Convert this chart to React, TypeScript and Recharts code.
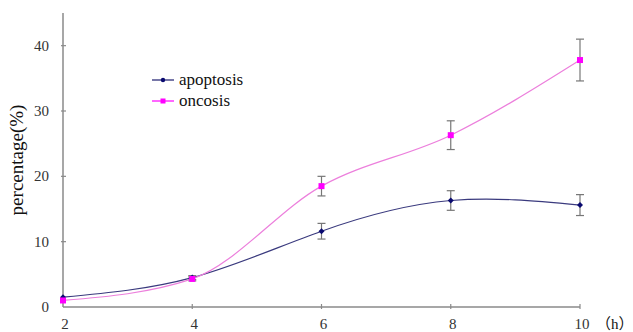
import { LineChart, Line, XAxis, YAxis, ErrorBar } from 'recharts';

const hours = [2, 4, 6, 8, 10];
const apoptosis = [1.5, 4.5, 11.6, 16.3, 15.6];
const apoptosisErr = [null, 0.3, 1.2, 1.5, 1.6];
const oncosis = [1.0, 4.3, 18.5, 26.3, 37.8];
const oncosisErr = [null, 0.3, 1.5, 2.2, 3.2];
const yTicks = [0, 10, 20, 30, 40];

const data = hours.map((h, i) => ({
  h,
  apoptosis: apoptosis[i],
  apoptosisErr: apoptosisErr[i],
  oncosis: oncosis[i],
  oncosisErr: oncosisErr[i],
}));

const FONT = 'Liberation Serif, DejaVu Serif, serif';
const AXIS = '#8a8a8a';

const XTick = (props: any) => {
  const { x, y, payload } = props;
  return (
    <g>
      {payload.value !== 2 ? (
        <line x1={x} y1={y} x2={x} y2={y - 5} stroke={AXIS} strokeWidth={1.2} />
      ) : null}
      <text x={x + 2} y={y + 20} textAnchor="middle" fontFamily={FONT} fontSize={15} fill="#333">
        {payload.value}
      </text>
    </g>
  );
};

const YTick = (props: any) => {
  const { x, y, payload } = props;
  return (
    <g>
      {payload.value !== 0 ? (
        <line x1={x} y1={y} x2={x + 5} y2={y} stroke={AXIS} strokeWidth={1.2} />
      ) : null}
      <text x={x - 12} y={y + 5} textAnchor="end" fontFamily={FONT} fontSize={15} fill="#333">
        {payload.value}
      </text>
    </g>
  );
};

const LegendBox = () => (
  <div
    style={{
      position: 'absolute',
      left: 150,
      top: 69,
      fontFamily: FONT,
      fontSize: 17,
      color: '#111',
      lineHeight: '21px',
    }}
  >
    <div style={{ display: 'flex', alignItems: 'center' }}>
      <svg width={26} height={21}>
        <line x1={2} y1={11} x2={24} y2={11} stroke="#1c1c6e" strokeWidth={1.2} />
        <circle cx={13} cy={11} r={2.2} fill="#0a0a70" />
      </svg>
      <span style={{ marginLeft: 3 }}>apoptosis</span>
    </div>
    <div style={{ display: 'flex', alignItems: 'center' }}>
      <svg width={26} height={21}>
        <line x1={2} y1={11} x2={24} y2={11} stroke="#ff00ff" strokeWidth={1.2} />
        <rect x={10.5} y={8.5} width={5} height={5} fill="#ff00ff" />
      </svg>
      <span style={{ marginLeft: 3 }}>oncosis</span>
    </div>
  </div>
);

const DiamondDot = (props: any) => {
  const { cx, cy } = props;
  if (cx == null || cy == null) return null;
  return <path d={`M${cx},${cy - 3}L${cx + 3},${cy}L${cx},${cy + 3}L${cx - 3},${cy}Z`} fill="#0a0a70" />;
};

const SquareDot = (props: any) => {
  const { cx, cy } = props;
  if (cx == null || cy == null) return null;
  return <rect x={cx - 3} y={cy - 3} width={6} height={6} fill="#ff00ff" />;
};

export default function App() {
  return (
    <div style={{ position: 'relative', width: 633, height: 332, background: '#fff' }}>
      <style>{`body{margin:0}`}</style>
      <LineChart width={633} height={332} data={data} margin={{ top: 13, right: 53, bottom: 0, left: 0 }}>
        <XAxis
          dataKey="h"
          type="number"
          domain={[2, 10]}
          ticks={hours}
          height={25}
          tickSize={0}
          tickLine={false}
          axisLine={{ stroke: AXIS, strokeWidth: 1.5 }}
          tick={<XTick />}
          interval={0}
        />
        <YAxis
          type="number"
          domain={[0, 45]}
          ticks={yTicks}
          width={63}
          tickSize={0}
          tickLine={false}
          axisLine={{ stroke: AXIS, strokeWidth: 1.5 }}
          tick={<YTick />}
          interval={0}
          label={{
            value: 'percentage(%)',
            angle: -90,
            position: 'insideLeft',
            offset: 16,
            style: { fontFamily: FONT, fontSize: 19, fill: '#111', textAnchor: 'middle' },
          }}
        />
        <Line
          type="natural"
          dataKey="apoptosis"
          stroke="#3a3a7e"
          strokeWidth={1.2}
          dot={<DiamondDot />}
          activeDot={false}
          isAnimationActive={false}
        >
          <ErrorBar dataKey="apoptosisErr" width={4} stroke="#777" strokeWidth={1.2} direction="y" />
        </Line>
        <Line
          type="monotone"
          dataKey="oncosis"
          stroke="#ec7fdc"
          strokeWidth={1.2}
          dot={<SquareDot />}
          activeDot={false}
          isAnimationActive={false}
        >
          <ErrorBar dataKey="oncosisErr" width={4} stroke="#777" strokeWidth={1.2} direction="y" />
        </Line>
      </LineChart>
      <LegendBox />
      <div
        style={{
          position: 'absolute',
          left: 596,
          top: 312,
          fontFamily: 'Liberation Serif, Noto Sans CJK SC, serif',
          fontSize: 15,
          color: '#111',
        }}
      >
        （h）
      </div>
    </div>
  );
}
